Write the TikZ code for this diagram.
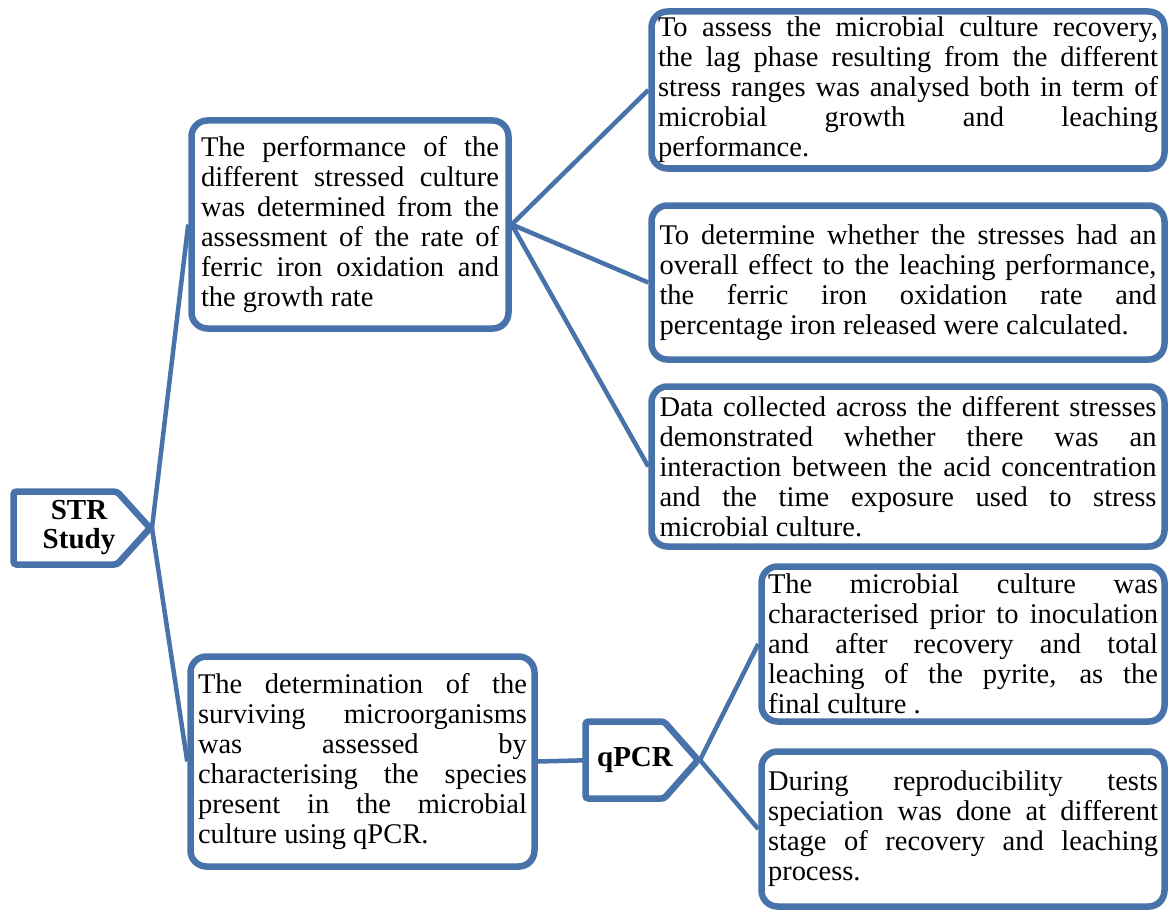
\documentclass[tikz,border=0pt]{standalone}
\usepackage{fontspec}
\setmainfont{Liberation Serif}
\usetikzlibrary{backgrounds,shadows}
\definecolor{boxblue}{RGB}{72,115,170}
\newcommand\bodyfnt{\fontsize{28.5}{30}\selectfont\parindent=0pt\tolerance=10000\hbadness=10000\hyphenpenalty=10000\exhyphenpenalty=10000}
\newcommand\titlefnt{\fontsize{29}{29}\selectfont\bfseries}
\tikzset{
  txtbox/.style={draw=boxblue, line width=6.5pt, rounded corners=16pt, fill=white,
    drop shadow={shadow xshift=2pt, shadow yshift=-3pt, opacity=0.25, fill=black},
    inner sep=0pt, align=justify, font=\bodyfnt},
  chevbox/.style={draw=boxblue, line width=6.5pt, rounded corners=3pt, fill=white,
    drop shadow={shadow xshift=2pt, shadow yshift=-3pt, opacity=0.25, fill=black}},
  titletext/.style={inner sep=0pt, align=center, font=\titlefnt},
  conn/.style={draw=boxblue, line width=4.5pt}
}
\begin{document}
\begin{tikzpicture}[x=1pt,y=-1pt]
\useasboundingbox (0,0) rectangle (1170,915);

% level 2 boxes
\node[txtbox, minimum width=317pt, minimum height=208pt, text width=298pt] (b1) at (350,224.5)
{The performance of the\linebreak different stressed culture\linebreak was determined from the\linebreak assessment of the rate of\linebreak ferric iron oxidation and\linebreak the growth rate};

\node[txtbox, minimum width=344pt, minimum height=210pt, text width=329pt] (b4) at (362.5,761.5)
{The determination of the\linebreak surviving microorganisms\linebreak was assessed by\linebreak characterising the species\linebreak present in the microbial\linebreak culture using qPCR.};

% level 3 boxes
\node[txtbox, minimum width=513pt, minimum height=157pt, text width=500pt] (bA) at (908,90)
{To assess the microbial culture recovery,\linebreak the lag phase resulting from the different\linebreak stress ranges was analysed both in term of\linebreak microbial growth and leaching\linebreak performance.};

\node[txtbox, minimum width=513pt, minimum height=154pt, text width=497pt] (bB) at (908,282.5)
{To determine whether the stresses had an\linebreak overall effect to the leaching performance,\linebreak the ferric iron oxidation rate and\linebreak percentage iron released were calculated.};

\node[txtbox, minimum width=513pt, minimum height=160pt, text width=497pt] (bC) at (908,466.5)
{Data collected across the different stresses\linebreak demonstrated whether there was an\linebreak interaction between the acid concentration\linebreak and the time exposure used to stress\linebreak microbial culture.};

\node[txtbox, minimum width=403pt, minimum height=155pt, text width=390pt] (bD) at (963,644)
{The microbial culture was\linebreak characterised prior to inoculation\linebreak and after recovery and total\linebreak leaching of the pyrite, as the\linebreak final culture .};

\node[txtbox, minimum width=403pt, minimum height=155pt, text width=390pt] (bE) at (963,829)
{During reproducibility tests\linebreak speciation was done at different\linebreak stage of recovery and leaching\linebreak process.};

% chevron boxes
\draw[chevbox] (13.5,491.5) -- (117,491.5) -- (150,528) -- (117,564.5) -- (13.5,564.5) -- cycle;
\node[titletext] (str) at (79,528) {STR\\Study};
\coordinate (strtip) at (152,528);

\draw[chevbox] (585.5,721.5) -- (664,721.5) -- (698,760) -- (664,798.5) -- (585.5,798.5) -- cycle;
\node[titletext] (qpcr) at (635,760) {qPCR};
\coordinate (qtip) at (700,760);

% connectors
\begin{scope}[on background layer]
\draw[conn] (strtip) -- (b1.west);
\draw[conn] (strtip) -- (b4.west);
\draw[conn] (b1.east) -- (bA.west);
\draw[conn] (b1.east) -- (bB.west);
\draw[conn] (b1.east) -- (bC.west);
\draw[conn] (b4.east) -- (qpcr.west);
\draw[conn] (qtip) -- (bD.west);
\draw[conn] (qtip) -- (bE.west);
\end{scope}
\end{tikzpicture}
\end{document}
